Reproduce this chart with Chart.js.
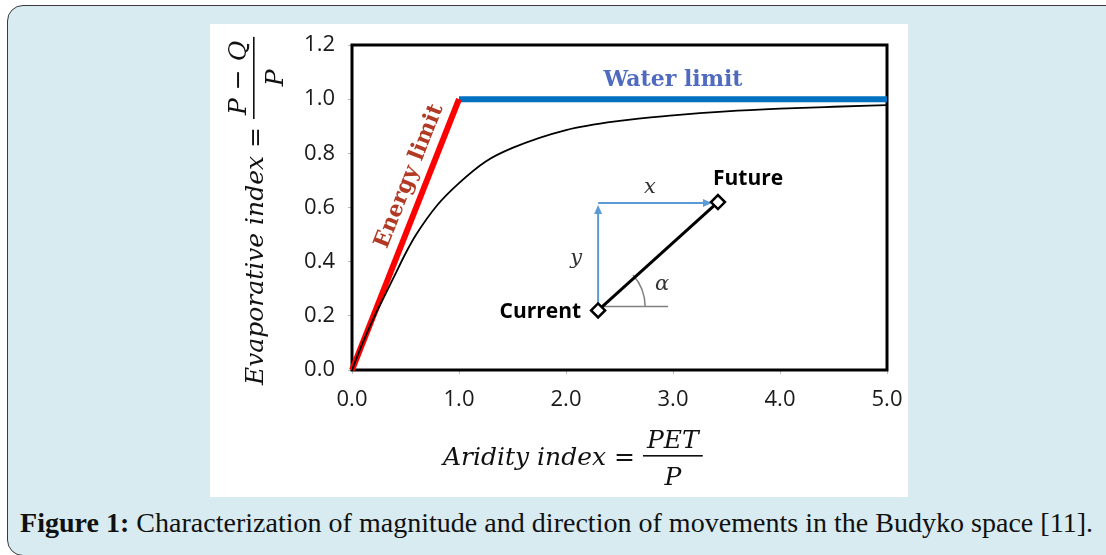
<!DOCTYPE html>
<html>
<head>
<meta charset="utf-8">
<script src="https://cdn.jsdelivr.net/npm/chart.js"></script>
<style>
  html, body { margin: 0; padding: 0; background: #fff; overflow: hidden; }
  body { width: 1106px; height: 555px; position: relative; }
  #frame { position: absolute; left: 7px; top: 5px; width: 1120px; height: 549px; background: #d8ebf0;
           border: 1.5px solid #3a3a3a; border-radius: 16px; }
  #panel { position: absolute; left: 210px; top: 24px; width: 698px; height: 473px; background: #fff; }
  #caption { position: absolute; left: 20px; top: 509px; font-family: "Liberation Serif", serif; font-size: 28px;
             line-height: 1; white-space: nowrap; transform-origin: 0 0; color: #111; }
</style>
</head>
<body>
<div id="frame"></div>
<div id="panel"><canvas id="budyko" width="698" height="473"></canvas></div>
<div id="caption"><b>Figure 1:</b> Characterization of magnitude and direction of movements in the Budyko space [11].</div>
<script>
// axis ticks
var xTicks = [0, 1, 2, 3, 4, 5];
var yTicks = [0, 0.2, 0.4, 0.6, 0.8, 1.0, 1.2];

// Budyko curve
var budykoX = [0, 0.1, 0.2, 0.3, 0.4, 0.5, 0.6, 0.8, 1.0, 1.25, 1.5, 2.0, 2.5, 3.0, 3.5, 4.0, 4.5, 5.0];
var budykoY = [0, 0.10, 0.19, 0.27, 0.35, 0.43, 0.50, 0.61, 0.69, 0.77, 0.82, 0.886, 0.92, 0.94, 0.955, 0.965, 0.972, 0.978];

// limits
var energyX = [0, 1];
var energyY = [0, 1];
var waterX = [1, 5];
var waterY = [1, 1];

// movement in Budyko space: Current -> Future
var moveLabels = ['Current', 'Future'];
var moveX = [2.30, 3.42];
var moveY = [0.22, 0.62];

function pts(xs, ys) {
    return xs.map(function (v, i) { return {x: v, y: ys[i]}; });
}

// fraction written as  main = num / den  along a baseline (already rotated if needed)
function drawFraction(ctx, main, num, den, u0, font) {
    ctx.font = font;
    ctx.textAlign = 'left';
    ctx.textBaseline = 'alphabetic';
    ctx.fillText(main, u0, 0);
    var w = ctx.measureText(main).width;
    var nw = ctx.measureText(num).width;
    var barLen = nw + 8;
    var b0 = u0 + w + 8;
    var mid = b0 + barLen / 2;
    ctx.fillRect(b0, -10, barLen, 1.6);
    ctx.textAlign = 'center';
    ctx.fillText(num, mid, -17);
    ctx.fillText(den, mid, 20);
}

function arrow(ctx, x0, y0, x1, y1) {
    var ang = Math.atan2(y1 - y0, x1 - x0);
    ctx.beginPath();
    ctx.moveTo(x0, y0);
    ctx.lineTo(x1 - 6 * Math.cos(ang), y1 - 6 * Math.sin(ang));
    ctx.stroke();
    ctx.save();
    ctx.translate(x1, y1);
    ctx.rotate(ang);
    ctx.beginPath();
    ctx.moveTo(0, 0);
    ctx.lineTo(-9, -4);
    ctx.lineTo(-9, 4);
    ctx.closePath();
    ctx.fill();
    ctx.restore();
}

var budykoDecor = {
    id: 'budykoDecor',
    beforeDatasetsDraw: function (chart) {
        var ctx = chart.ctx, a = chart.chartArea, xs = chart.scales.x, ys = chart.scales.y;
        ctx.save();
        // plot box
        ctx.strokeStyle = '#000';
        ctx.lineWidth = 3;
        ctx.strokeRect(a.left, a.top, a.right - a.left, a.bottom - a.top);

        var cx = xs.getPixelForValue(moveX[0]), cy = ys.getPixelForValue(moveY[0]);
        var fx = xs.getPixelForValue(moveX[1]), fy = ys.getPixelForValue(moveY[1]);

        // grey reference line and angle arc
        ctx.strokeStyle = '#808080';
        ctx.lineWidth = 1.5;
        ctx.beginPath();
        ctx.moveTo(cx, cy - 4);
        ctx.lineTo(cx + 70, cy - 4);
        ctx.stroke();
        var ang = Math.atan2(fy - cy, fx - cx);
        ctx.beginPath();
        ctx.arc(cx, cy - 4, 47, ang, 0);
        ctx.stroke();

        // x / y components
        ctx.strokeStyle = '#5b9bd5';
        ctx.fillStyle = '#5b9bd5';
        ctx.lineWidth = 2;
        arrow(ctx, cx, cy - 6, cx, fy + 3);
        arrow(ctx, cx, fy + 1, fx - 6, fy + 1);
        ctx.restore();
    },
    afterDatasetsDraw: function (chart) {
        var ctx = chart.ctx, xs = chart.scales.x, ys = chart.scales.y;
        ctx.save();
        // Energy limit label along the red line
        var e0x = xs.getPixelForValue(energyX[0]), e0y = ys.getPixelForValue(energyY[0]);
        var e1x = xs.getPixelForValue(energyX[1]), e1y = ys.getPixelForValue(energyY[1]);
        var ang = Math.atan2(e1y - e0y, e1x - e0x);
        var ax = xs.getPixelForValue(0.7), ay = ys.getPixelForValue(0.7);
        ctx.translate(ax - 12, ay - 2);
        ctx.rotate(ang);
        ctx.font = 'bold 22px "DejaVu Serif"';
        ctx.fillStyle = '#b23a24';
        ctx.textAlign = 'center';
        ctx.textBaseline = 'alphabetic';
        ctx.fillText('Energy limit', 0, 0);
        ctx.restore();

        ctx.save();
        ctx.font = 'bold 22px "DejaVu Serif"';
        ctx.fillStyle = '#4f6bbf';
        ctx.textAlign = 'center';
        ctx.textBaseline = 'alphabetic';
        ctx.fillText('Water limit', xs.getPixelForValue(3.0), ys.getPixelForValue(waterY[0]) - 13);

        var cx = xs.getPixelForValue(moveX[0]), cy = ys.getPixelForValue(moveY[0]);
        var fx = xs.getPixelForValue(moveX[1]), fy = ys.getPixelForValue(moveY[1]);
        ctx.fillStyle = '#000';
        ctx.font = 'bold 21px "Open Sans"';
        ctx.textBaseline = 'middle';
        ctx.textAlign = 'right';
        ctx.fillText(moveLabels[0], cx - 17, cy + 2);
        ctx.textAlign = 'left';
        ctx.fillText(moveLabels[1], fx - 5, fy - 23);

        ctx.fillStyle = '#333';
        ctx.font = 'italic 21px "DejaVu Serif"';
        ctx.textAlign = 'center';
        ctx.fillText('x', (cx + fx) / 2 - 8, fy - 15);
        ctx.fillText('y', cx - 22, (cy + fy) / 2 + 2);
        ctx.fillText('\u03b1', cx + 64, cy - 26);
        ctx.restore();
    },
    afterDraw: function (chart) {
        var ctx = chart.ctx;
        var font = 'italic 25px "DejaVu Serif"';
        ctx.save();
        ctx.fillStyle = '#111';
        // y title, rotated
        ctx.save();
        ctx.translate(53, 361);
        ctx.rotate(-Math.PI / 2);
        drawFraction(ctx, 'Evaporative index =', 'P \u2212 Q', 'P', 0, font);
        ctx.restore();
        // x title
        ctx.save();
        ctx.translate(0, 441);
        drawFraction(ctx, 'Aridity index =', 'PET', 'P', 233, font);
        ctx.restore();
        ctx.restore();
    }
};

var tickFont = {family: '"Open Sans"', size: 22};

new Chart(document.getElementById('budyko'), {
    type: 'scatter',
    data: {
        datasets: [{
            label: 'Budyko curve',
            data: pts(budykoX, budykoY),
            showLine: true,
            borderColor: '#000',
            borderWidth: 1.8,
            pointRadius: 0,
            cubicInterpolationMode: 'monotone'
        }, {
            label: 'Energy limit',
            data: pts(energyX, energyY),
            showLine: true,
            borderColor: '#ff0000',
            borderWidth: 6,
            pointRadius: 0,
            clip: false
        }, {
            label: 'Water limit',
            data: pts(waterX, waterY),
            showLine: true,
            borderColor: '#0070c0',
            borderWidth: 6,
            borderCapStyle: 'butt',
            pointRadius: 0
        }, {
            label: 'Movement',
            data: pts(moveX, moveY),
            showLine: true,
            borderColor: '#000',
            borderWidth: 3,
            pointStyle: 'rectRot',
            pointRadius: 7,
            pointBorderWidth: 2.5,
            pointBorderColor: '#000',
            pointBackgroundColor: '#fff'
        }]
    },
    options: {
        responsive: false,
        animation: false,
        events: [],
        layout: {padding: {left: 0, top: 21, right: 21, bottom: 0}},
        plugins: {legend: {display: false}, tooltip: {enabled: false}},
        scales: {
            x: {
                type: 'linear',
                min: xTicks[0],
                max: xTicks[xTicks.length - 1],
                afterBuildTicks: function (s) { s.ticks = xTicks.map(function (v) { return {value: v}; }); },
                afterFit: function (s) { s.height = 127; s.paddingLeft = 0; s.paddingRight = 0; },
                border: {display: false},
                grid: {drawOnChartArea: false, tickLength: 4, color: '#bbb'},
                ticks: {
                    font: tickFont, color: '#1a1a1a', padding: 13, maxRotation: 0,
                    callback: function (v) { return v.toFixed(1); }
                }
            },
            y: {
                min: yTicks[0],
                max: yTicks[yTicks.length - 1],
                afterBuildTicks: function (s) { s.ticks = yTicks.map(function (v) { return {value: v}; }); },
                afterFit: function (s) { s.width = 142; s.paddingTop = 0; s.paddingBottom = 0; },
                border: {display: false},
                grid: {drawOnChartArea: false, tickLength: 4, color: '#bbb'},
                ticks: {
                    font: tickFont, color: '#1a1a1a', padding: 13,
                    callback: function (v) { return v.toFixed(1); }
                }
            }
        }
    },
    plugins: [budykoDecor]
});

// fit the caption to the width of the original
var cap = document.getElementById('caption');
cap.style.transform = 'scaleX(' + (1073 / cap.getBoundingClientRect().width) + ')';
</script>
</body>
</html>
